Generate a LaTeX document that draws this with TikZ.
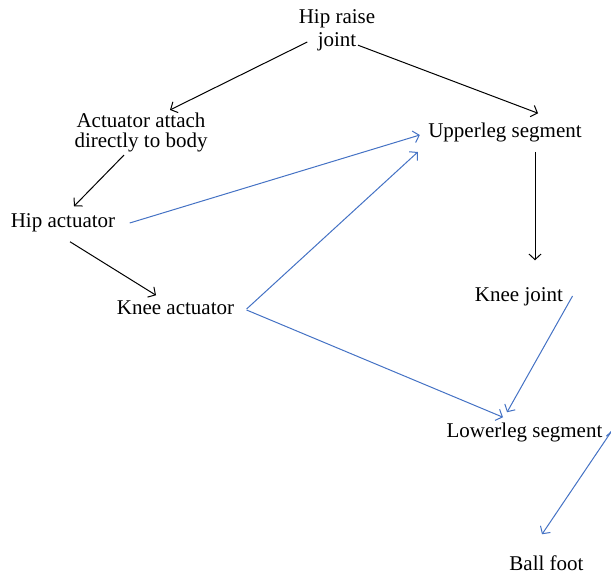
\documentclass[tikz,border=0pt]{standalone}
\usepackage{fontspec}
\setmainfont{Liberation Serif}
\usetikzlibrary{arrows.meta}
\definecolor{linkblue}{RGB}{68,114,196}

\begin{document}
\begin{tikzpicture}[->,>={Straight Barb[length=5.5pt,width=12pt]},line width=1pt,
                    x=1pt,y=-1pt]
  \tikzstyle{every node}=[inner sep=0pt,font=\fontsize{21}{23}\selectfont]
  \tikzstyle{part}=[text height=14pt,text depth=4.5pt]
  \tikzstyle{blue link}=[draw=linkblue]
  \useasboundingbox (0,0) rectangle (611,579);

  \node[align=center]                    (hip)     at (337,30)    {Hip raise\\joint};
  \node[align=center,font=\fontsize{21}{20}\selectfont]
                                         (attach)  at (141,132)   {Actuator attach\\directly to body};
  \node[part]                            (upper)   at (505,133)   {Upperleg segment};
  \node[part]                            (hipact)  at (63,223)    {Hip actuator};
  \node[part]                            (kneeact) at (175.5,310) {Knee actuator};
  \node[part]                            (kneej)   at (519,297)   {Knee joint};
  \node[part]                            (lower)   at (524.5,433) {Lowerleg segment};
  \node[part]                            (ball)    at (546.5,566) {Ball foot};

  % black links
  \path ([shift={(9,12)}]hip.west)       edge ([shift={(29,-2)}]attach.north)
        ([shift={(21,-6)}]hip.south)     edge ([shift={(33,-10)}]upper.north)
        ([shift={(-17,3)}]attach.south)  edge ([shift={(11,-7)}]hipact.north)
        ([shift={(7,9)}]hipact.south)    edge ([shift={(-19.5,-5)}]kneeact.north)
        ([shift={(30,9)}]upper.south)    edge ([shift={(16,-27)}]kneej.north);

  % blue links
  \path[blue link]
        ([shift={(14,0)}]hipact.east)    edge ([shift={(-8,2)}]upper.west)
        ([shift={(12,-1)}]kneeact.east)  edge ([shift={(-10,19)}]upper.west)
        ([shift={(12,0)}]kneeact.east)   edge ([shift={(-21.5,-6)}]lower.north)
        ([shift={(9,-1)}]kneej.east)     edge ([shift={(-17.5,-11)}]lower.north)
        ([shift={(9.5,-3)}]lower.east)   edge ([shift={(-4.5,-22)}]ball.north);
\end{tikzpicture}
\end{document}
